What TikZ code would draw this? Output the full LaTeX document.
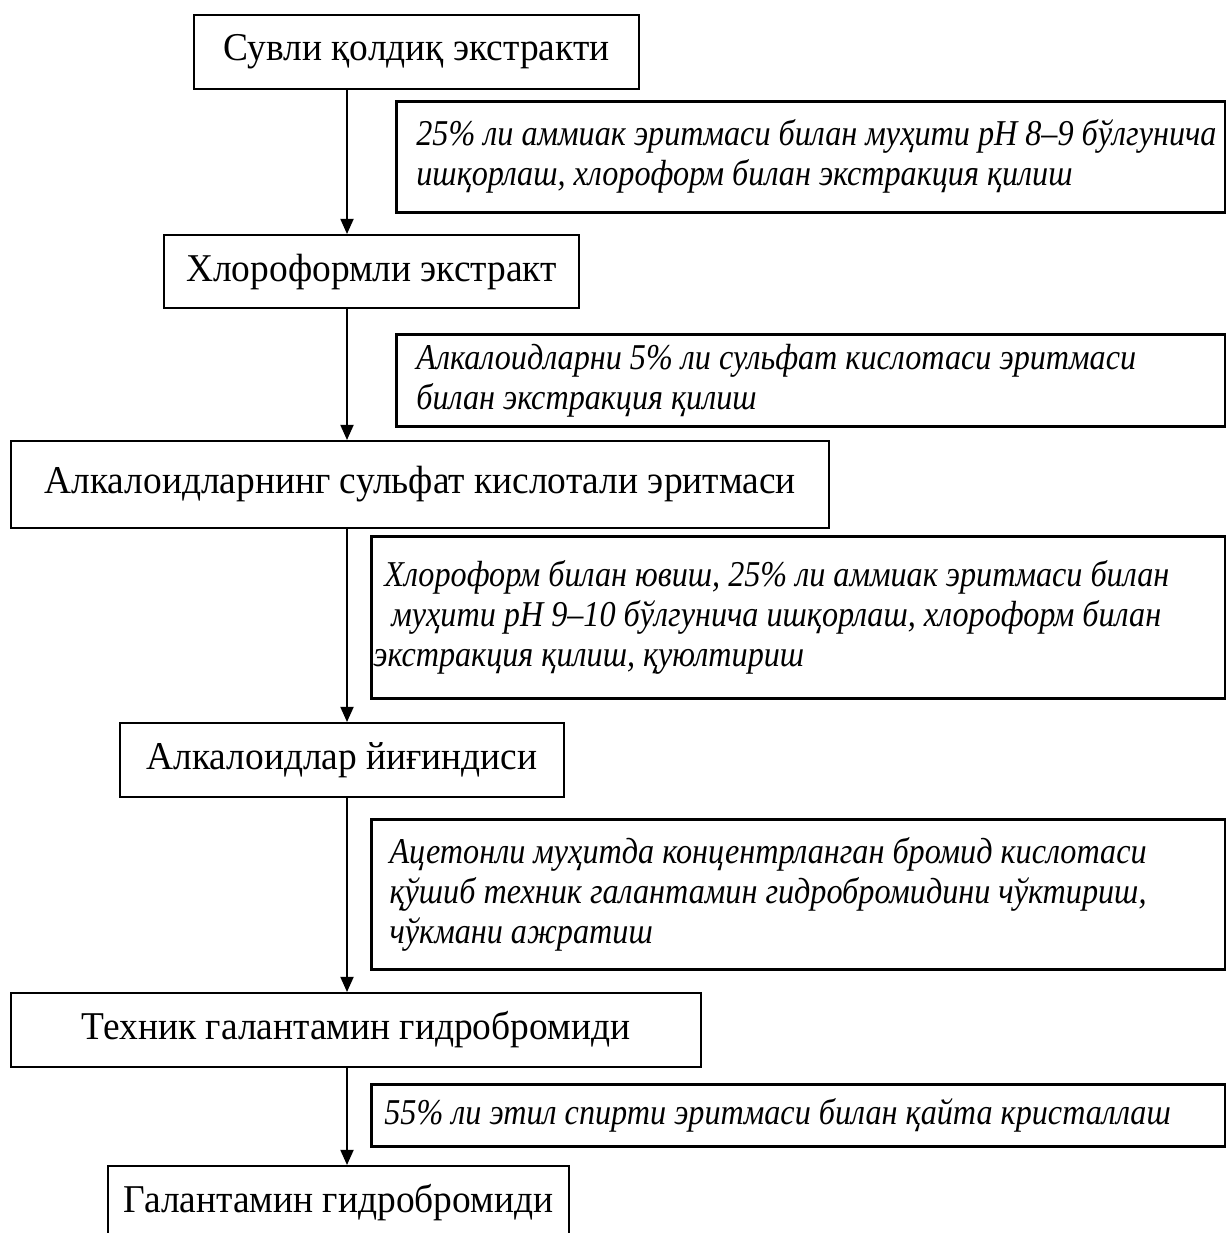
\documentclass[tikz,border=0pt]{standalone}
\usepackage{fontspec}
\setmainfont{Liberation Serif}
\newfontfamily\boxfont[FakeStretch=0.95]{Liberation Serif}
\newfontfamily\notefont[FakeStretch=0.885]{Liberation Serif}
\usepackage{tikz}
\usetikzlibrary{positioning, arrows.meta}

\begin{document}
\begin{tikzpicture}[
    x=0.33pt, y=-0.33pt,
    box/.style={
        draw,
        line width=0.7pt,
        anchor=north west,
        inner sep=0pt,
        font=\boxfont\fontsize{13}{15}\selectfont
    },
    note/.style={
        draw,
        line width=0.9pt,
        anchor=north west,
        inner xsep=0.7pt,
        inner ysep=0pt,
        align=flush left,
        font=\notefont\fontsize{12}{13.2}\selectfont\itshape
    },
    arrow/.style={-{Triangle[length=5pt,width=4.3pt]}, line width=0.65pt}
]
\useasboundingbox (0,0) rectangle (1225,1233);

\node[box, minimum width=146.9pt, minimum height=24.4pt] (extract) at (193,14) {Сувли қолдиқ экстракти};
\node[box, minimum width=137pt, minimum height=24.1pt] (chloro) at (163,234) {Хлороформли экстракт};
\node[box, minimum width=270pt, minimum height=28.7pt] (sulfate) at (10,440) {Алкалоидларнинг сульфат кислотали эритмаси};
\node[box, minimum width=146.5pt, minimum height=24.4pt] (total) at (119,722) {Алкалоидлар йиғиндиси};
\node[box, minimum width=227.7pt, minimum height=24.4pt] (technical) at (10,992) {Техник галантамин гидробромиди};
\node[box, minimum width=152pt, minimum height=24.4pt] (pure) at (107,1165) {Галантамин гидробромиди};

\node[note, text width=272.2pt, minimum height=36.6pt] (alkalize) at (395,100)
    {\hspace*{5.9pt}25\% ли аммиак эритмаси билан муҳити pH 8–9 бўлгунича\\\hspace*{5.9pt}ишқорлаш, хлороформ билан экстракция қилиш};
\node[note, text width=272.2pt, minimum height=30.4pt] (acidextr) at (395,333)
    {\hspace*{5.9pt}Алкалоидларни 5\% ли сульфат кислотаси эритмаси\\\hspace*{5.9pt}билан экстракция қилиш};
\node[note, text width=280.4pt, minimum height=53.5pt] (basify) at (370,535)
    {\hspace*{3.6pt}Хлороформ билан ювиш, 25\% ли аммиак эритмаси билан\\\hspace*{5.9pt}муҳити pH 9–10 бўлгунича ишқорлаш, хлороформ билан\\экстракция қилиш, қуюлтириш};
\node[note, text width=280.4pt, minimum height=49.5pt] (precip) at (370,818)
    {\hspace*{5.3pt}Ацетонли муҳитда концентрланган бромид кислотаси\\\hspace*{5.3pt}қўшиб техник галантамин гидробромидини чўктириш,\\\hspace*{5.3pt}чўкмани ажратиш};
\node[note, text width=280.4pt, minimum height=20.5pt] (recryst) at (370,1083)
    {\hspace*{3.6pt}55\% ли этил спирти эритмаси билан қайта кристаллаш};

\coordinate (axis) at (347,0);
\draw[arrow] (axis |- extract.south) -- (axis |- chloro.north);
\draw[arrow] (axis |- chloro.south) -- (axis |- sulfate.north);
\draw[arrow] (axis |- sulfate.south) -- (axis |- total.north);
\draw[arrow] (axis |- total.south) -- (axis |- technical.north);
\draw[arrow] (axis |- technical.south) -- (axis |- pure.north);

\end{tikzpicture}
\end{document}
